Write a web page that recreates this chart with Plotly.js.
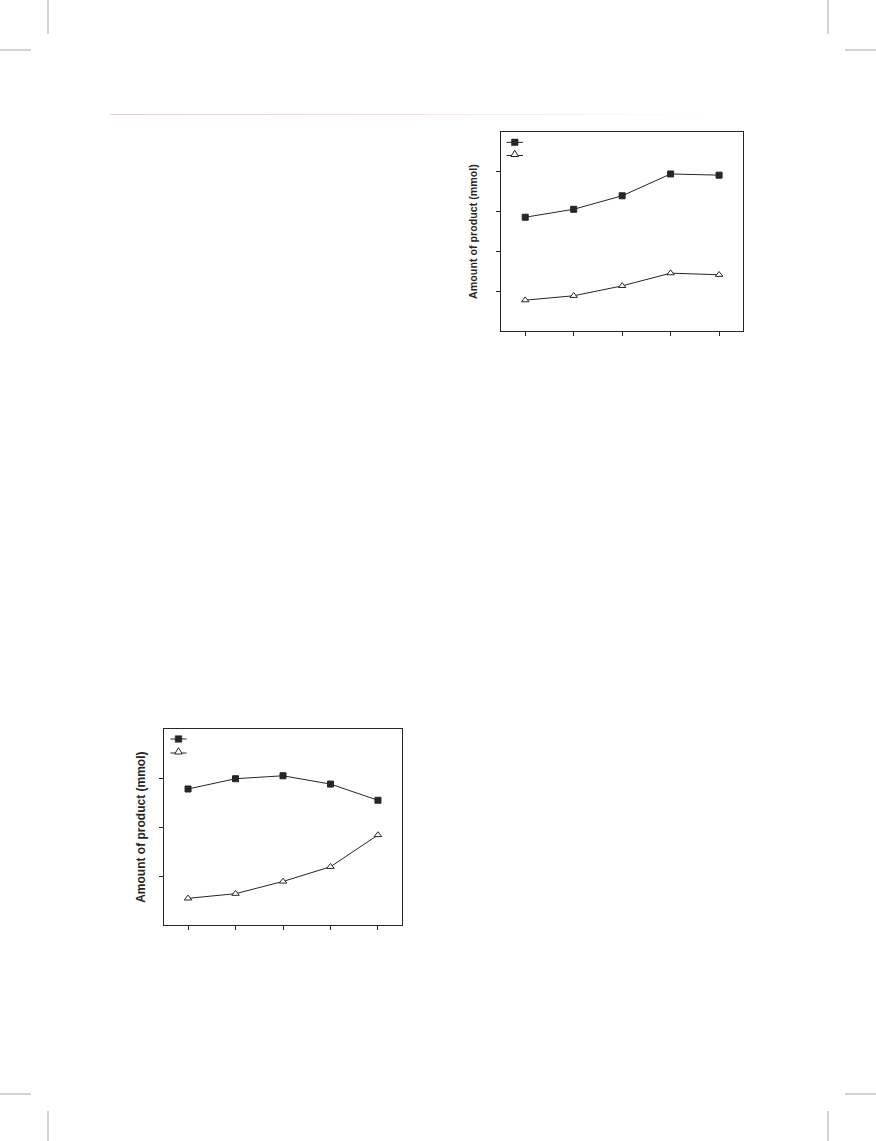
<!DOCTYPE html>
<html>
<head>
<meta charset="utf-8">
<script src="https://cdn.plot.ly/plotly-3.0.1.min.js"></script>
<style>
html,body{margin:0;padding:0;background:#fff;}
#chart{width:876px;height:1141px;}
</style>
</head>
<body>
<div id="chart"></div>
<script>
// ---- data ----
const xPoints = [1, 2, 3, 4, 5];
const topSquares = [2.86, 3.06, 3.40, 3.95, 3.92];
const topTriangles = [0.77, 0.88, 1.13, 1.45, 1.41];
const bottomSquares = [2.78, 2.99, 3.05, 2.88, 2.55];
const bottomTriangles = [0.545, 0.64, 0.89, 1.19, 1.84];
const topYTicks = [1, 2, 3, 4];
const bottomYTicks = [1, 2, 3];
const yTitle = 'Amount of product (mmol)';

// ---- layout helpers ----
const W = 876, H = 1141;
const px = x => x / W;
const py = y => 1 - y / H;
const ink = '#262626';

function squareTrace(y, xa, ya) {
  return {x: xPoints, y: y, xaxis: xa, yaxis: ya, type: 'scatter', mode: 'lines+markers',
    showlegend: false, hoverinfo: 'skip',
    line: {color: ink, width: 1},
    marker: {symbol: 'square', size: 6, color: ink, line: {color: ink, width: 1}}};
}
function triangleTrace(y, xa, ya) {
  return {x: xPoints, y: y, xaxis: xa, yaxis: ya, type: 'scatter', mode: 'lines+markers',
    showlegend: false, hoverinfo: 'skip',
    line: {color: ink, width: 1},
    marker: {symbol: 'triangle-up', size: 6.5, color: '#ffffff', line: {color: ink, width: 1}}};
}

const data = [
  squareTrace(topSquares, 'x', 'y'),
  triangleTrace(topTriangles, 'x', 'y'),
  squareTrace(bottomSquares, 'x2', 'y2'),
  triangleTrace(bottomTriangles, 'x2', 'y2')
];

function xAxis(domain, anchor) {
  return {domain: domain, anchor: anchor, range: [0.5, 5.5], tickvals: xPoints,
    showticklabels: false, ticks: 'outside', ticklen: 4, tickwidth: 1, tickcolor: ink,
    showline: true, mirror: true, linecolor: ink, linewidth: 1,
    showgrid: false, zeroline: false, fixedrange: true};
}
function yAxis(domain, anchor, range, ticks, fsize, standoff) {
  return {domain: domain, anchor: anchor, range: range, tickvals: ticks,
    showticklabels: false, ticks: 'outside', ticklen: 4, tickwidth: 1, tickcolor: ink,
    showline: true, mirror: true, linecolor: ink, linewidth: 1,
    showgrid: false, zeroline: false, fixedrange: true,
    title: {text: '<b>' + yTitle + '</b>', standoff: standoff,
      font: {family: 'Liberation Sans, Arial, sans-serif', size: fsize, color: ink}}};
}

const shapes = [];
// legend glyphs (paper coordinates)
function legendGlyphs(x0, x1, ySq, yTri) {
  const cx = (x0 + x1) / 2;
  shapes.push({type: 'line', xref: 'paper', yref: 'paper', x0: px(x0), x1: px(x1), y0: py(ySq), y1: py(ySq), line: {color: ink, width: 1}});
  shapes.push({type: 'rect', xref: 'paper', yref: 'paper', x0: px(cx - 3.3), x1: px(cx + 3.3), y0: py(ySq + 3.3), y1: py(ySq - 3.3), fillcolor: ink, line: {color: ink, width: 0.5}});
  shapes.push({type: 'line', xref: 'paper', yref: 'paper', x0: px(x0), x1: px(x1), y0: py(yTri + 1.5), y1: py(yTri + 1.5), line: {color: ink, width: 1}});
  const path = 'M' + px(cx - 3.8) + ',' + py(yTri + 2.5) + ' L' + px(cx + 3.8) + ',' + py(yTri + 2.5) + ' L' + px(cx) + ',' + py(yTri - 3.8) + ' Z';
  shapes.push({type: 'path', xref: 'paper', yref: 'paper', path: path, fillcolor: '#ffffff', line: {color: ink, width: 1}});
}
legendGlyphs(506.5, 523, 142.3, 154);
legendGlyphs(170.5, 186.5, 739, 751.5);

// page decorations: crop marks
const crop = {color: '#a8a8a8', width: 1};
[[48, 0, 48, 34], [828, 0, 828, 34], [0, 50, 31, 50], [845, 50, 876, 50],
 [0, 1094, 31, 1094], [845, 1094, 876, 1094], [48, 1111, 48, 1141], [828, 1111, 828, 1141]]
.forEach(s => shapes.push({type: 'line', xref: 'paper', yref: 'paper',
  x0: px(s[0]), y0: py(s[1]), x1: px(s[2]), y1: py(s[3]), line: crop}));

// faint red rule fading to white
const nSeg = 16, rx0 = 110, rx1 = 745;
for (let i = 0; i < nSeg; i++) {
  const t = i / (nSeg - 1);
  const g = Math.round(200 + 55 * t), r = Math.round(246 + 9 * t);
  shapes.push({type: 'line', xref: 'paper', yref: 'paper',
    x0: px(rx0 + (rx1 - rx0) * i / nSeg), x1: px(rx0 + (rx1 - rx0) * (i + 1) / nSeg),
    y0: py(114.5), y1: py(114.5), line: {color: 'rgb(' + r + ',' + g + ',' + g + ')', width: 1}});
}

const layout = {
  width: W, height: H, margin: {l: 0, r: 0, t: 0, b: 0},
  paper_bgcolor: '#ffffff', plot_bgcolor: '#ffffff', showlegend: false,
  xaxis: xAxis([px(501), px(743.3)], 'y'),
  yaxis: yAxis([py(330.7), py(132.3)], 'x', [0, 5], topYTicks, 10.7, 16),
  xaxis2: xAxis([px(164.3), px(401.7)], 'y2'),
  yaxis2: yAxis([py(925), py(729.3)], 'x2', [0, 4], bottomYTicks, 12, 11),
  shapes: shapes
};

Plotly.newPlot('chart', data, layout, {displayModeBar: false, staticPlot: true});
</script>
</body>
</html>
